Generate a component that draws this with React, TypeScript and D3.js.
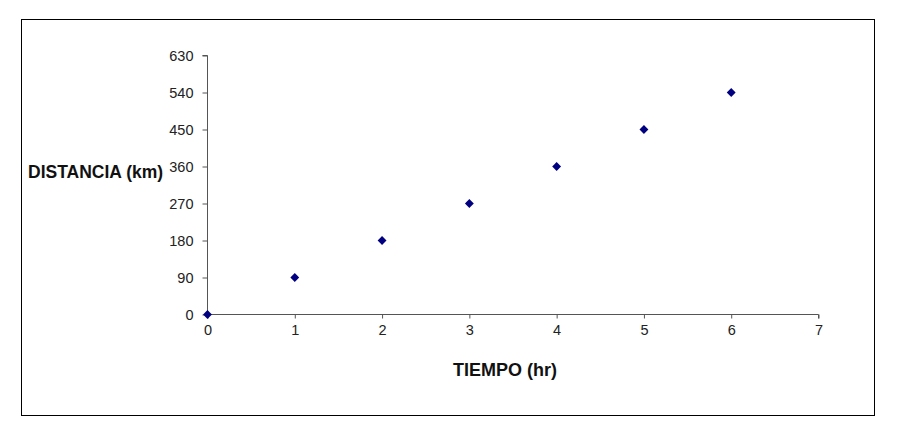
import React, { useEffect, useRef } from 'react';
import * as d3 from 'd3';

const tiempo = [0, 1, 2, 3, 4, 5, 6];
const distancia = [0, 90, 180, 270, 360, 450, 540];
const xTicks = [0, 1, 2, 3, 4, 5, 6, 7];
const yTicks = [0, 90, 180, 270, 360, 450, 540, 630];

const App = () => {
  const chRef = useRef<SVGSVGElement>(null);

  useEffect(() => {
    const width = 904;
    const height = 438;
    const svg = d3.select(chRef.current);
    svg.selectAll('*').remove();

    svg
      .append('rect')
      .attr('width', width)
      .attr('height', height)
      .attr('fill', '#fff');

    // outer frame
    svg
      .append('rect')
      .attr('x', 21.5)
      .attr('y', 19.5)
      .attr('width', 853)
      .attr('height', 396)
      .attr('fill', 'none')
      .attr('stroke', '#000')
      .attr('stroke-width', 1);

    const x = d3.scaleLinear().domain([0, 7]).range([207.5, 818.5]);
    const y = d3.scaleLinear().domain([0, 630]).range([314.5, 55.5]);

    const font = 'Arial, "Liberation Sans", sans-serif';

    // y axis
    const yAxis = svg
      .append('g')
      .attr('transform', `translate(${x(0)},0)`)
      .call(d3.axisLeft(y).tickValues(yTicks).tickSize(5).tickPadding(9).tickFormat(d3.format('d')));
    yAxis.attr('font-size', null).attr('font-family', null);
    yAxis.select('.domain').attr('stroke', '#555').attr('d', `M-5,${y(630)}H0V${y(0)}`);
    yAxis.selectAll('.tick line').attr('stroke', '#555');
    yAxis
      .selectAll('.tick text')
      .style('font-family', font)
      .style('font-size', '14.5px')
      .attr('fill', '#222');

    // x axis
    const xAxis = svg
      .append('g')
      .attr('transform', `translate(0,${y(0)})`)
      .call(d3.axisBottom(x).tickValues(xTicks).tickSize(4).tickPadding(6).tickFormat(d3.format('d')));
    xAxis.attr('font-size', null).attr('font-family', null);
    xAxis.select('.domain').attr('stroke', '#555').attr('d', `M${x(0)},0H${x(7)}V4`);
    xAxis.selectAll('.tick line').attr('stroke', '#555');
    xAxis
      .selectAll('.tick text')
      .style('font-family', font)
      .style('font-size', '14.5px')
      .attr('fill', '#222');

    // markers
    const diamond = d3.symbol().type(d3.symbolDiamond2).size(50);
    svg
      .selectAll('path.pt')
      .data(tiempo)
      .enter()
      .append('path')
      .attr('class', 'pt')
      .attr('d', diamond)
      .attr('transform', (d, i) => `translate(${x(d)},${y(distancia[i])})`)
      .attr('fill', '#000080');

    // axis titles
    svg
      .append('text')
      .text('TIEMPO (hr)')
      .attr('x', 505)
      .attr('y', 376)
      .attr('text-anchor', 'middle')
      .style('font-family', font)
      .style('font-weight', 700)
      .style('font-size', '18px')
      .attr('fill', '#111');

    svg
      .append('text')
      .text('DISTANCIA (km)')
      .attr('x', 28)
      .attr('y', 178)
      .style('font-family', font)
      .style('font-weight', 700)
      .style('font-size', '17.5px')
      .attr('fill', '#111');
  }, []);

  return (
    <svg
      ref={chRef}
      width={904}
      height={438}
      style={{ position: 'absolute', left: 0, top: 0, display: 'block' }}
    />
  );
};

export default App;
